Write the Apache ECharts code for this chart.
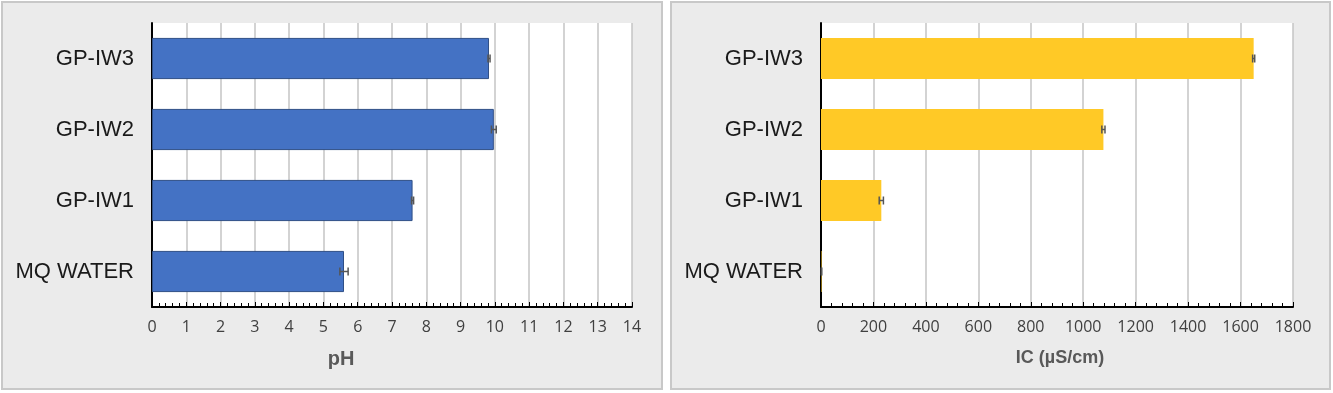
<!DOCTYPE html>
<html><head><meta charset="utf-8">
<script src="https://cdn.jsdelivr.net/npm/echarts@6/dist/echarts.min.js"></script>
<style>html,body{margin:0;padding:0;background:#fff}#c{width:1333px;height:393px}</style>
</head><body><div id="c"></div>
<script>
const categories = ['MQ WATER', 'GP-IW1', 'GP-IW2', 'GP-IW3'];
const phValues = [5.6, 7.6, 9.97, 9.83];
const phErrors = [0.12, 0.03, 0.07, 0.03];
const icValues = [2, 230, 1077, 1650];
const icErrors = [1, 8, 6, 4];
const phTicks = {min: 0, max: 14, interval: 1};
const icTicks = {min: 0, max: 1800, interval: 200};

const chart = echarts.init(document.getElementById('c'), null, {renderer: 'canvas'});

function errData(vals, errs) { return vals.map((v, i) => [v, i, errs[i]]); }
function errRender(params, api) {
  const v = api.value(0), c = api.value(1), e = api.value(2);
  const p1 = api.coord([v - e, c]), p2 = api.coord([v + e, c]);
  const h = 4;
  const st = {stroke: '#555', lineWidth: 1.5};
  return {type: 'group', children: [
    {type: 'line', shape: {x1: p1[0], y1: p1[1], x2: p2[0], y2: p2[1]}, style: st},
    {type: 'line', shape: {x1: p1[0], y1: p1[1] - h, x2: p1[0], y2: p1[1] + h}, style: st},
    {type: 'line', shape: {x1: p2[0], y1: p2[1] - h, x2: p2[0], y2: p2[1] + h}, style: st}
  ]};
}
function xAx(idx, t, name, namePad, nameSize) {
  return {
    type: 'value', gridIndex: idx, min: t.min, max: t.max, interval: t.interval,
    name: name, nameLocation: 'middle', nameGap: 42,
    nameTextStyle: {fontFamily: 'Liberation Sans', fontSize: nameSize, fontWeight: 'bold', color: '#595959', padding: namePad},
    axisLine: {show: true, lineStyle: {color: '#000', width: 2}},
    axisTick: {show: true, inside: true, length: 5, lineStyle: {color: '#000', width: 1}},
    minorTick: {show: true, splitNumber: 5, length: 4, lineStyle: {color: '#000', width: 1}},
    axisLabel: {margin: 12, fontFamily: 'Open Sans', fontSize: 16, color: '#404040', formatter: v => String(v)},
    splitLine: {show: true, lineStyle: {color: '#c4c4c4', width: 1.5}}
  };
}
function yAx(idx) {
  return {
    type: 'category', gridIndex: idx, data: categories,
    axisLine: {show: true, lineStyle: {color: '#000', width: 2}},
    axisTick: {show: false},
    axisLabel: {margin: 18, fontFamily: 'Liberation Sans', fontSize: 22, color: '#1a1a1a'},
    splitLine: {show: false}
  };
}
chart.setOption({
  animation: false,
  backgroundColor: '#fff',
  graphic: [
    {type: 'rect', shape: {x: 2, y: 2, width: 660, height: 387}, style: {fill: '#ebebeb', stroke: '#c8c8c8', lineWidth: 2}, z: -10},
    {type: 'rect', shape: {x: 671, y: 2, width: 659, height: 387}, style: {fill: '#ebebeb', stroke: '#c8c8c8', lineWidth: 2}, z: -10}
  ],
  grid: [
    {left: 152, right: 701, top: 23, bottom: 86, show: true, backgroundColor: '#fff', borderWidth: 0},
    {left: 821, right: 40, top: 23, bottom: 86, show: true, backgroundColor: '#fff', borderWidth: 0}
  ],
  xAxis: [xAx(0, phTicks, 'pH', [0, 102, 0, 0], 20), xAx(1, icTicks, 'IC (µS/cm)', [0, 0, 0, 6], 18)],
  yAxis: [yAx(0), yAx(1)],
  series: [
    {type: 'bar', xAxisIndex: 0, yAxisIndex: 0, data: phValues, barCategoryGap: '42%',
     itemStyle: {color: '#4472C4', borderColor: '#2F4F86', borderWidth: 1}},
    {type: 'custom', xAxisIndex: 0, yAxisIndex: 0, data: errData(phValues, phErrors), renderItem: errRender, encode: {x: 0, y: 1}, z: 5},
    {type: 'bar', xAxisIndex: 1, yAxisIndex: 1, data: icValues, barCategoryGap: '42%',
     itemStyle: {color: '#FFC926'}},
    {type: 'custom', xAxisIndex: 1, yAxisIndex: 1, data: errData(icValues, icErrors), renderItem: errRender, encode: {x: 0, y: 1}, z: 5}
  ]
});
</script></body></html>
